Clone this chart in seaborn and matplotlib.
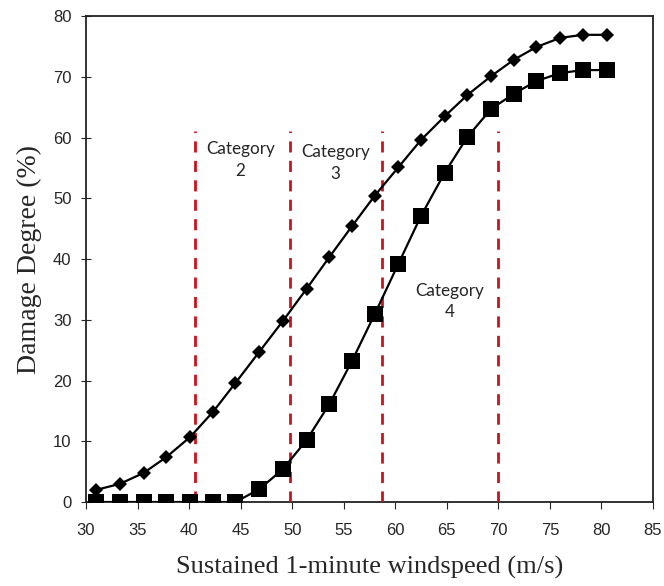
import numpy as np
import pandas as pd
import seaborn as sns
import matplotlib.pyplot as plt

# Values.
windspeed = [31.0, 33.3, 35.6, 37.8, 40.1, 42.3, 44.5, 46.8, 49.1, 51.4, 53.6,
             55.8, 58.0, 60.3, 62.5, 64.8, 67.0, 69.3, 71.5, 73.7, 76.0, 78.2,
             80.5]
damage_upper = [2.0, 3.0, 4.8, 7.4, 10.7, 14.8, 19.6, 24.7, 29.8, 35.1, 40.3,
                45.4, 50.4, 55.1, 59.6, 63.5, 67.0, 70.1, 72.8, 74.9, 76.4,
                76.9, 76.9]
damage_lower = [0.0, 0.0, 0.0, 0.0, 0.0, 0.0, 0.0, 2.1, 5.4, 10.2, 16.1, 23.2,
                30.9, 39.2, 47.1, 54.2, 60.1, 64.7, 67.2, 69.3, 70.6, 71.1,
                71.1]

category_bounds = [40.6, 49.8, 58.7, 70.0]
category_top = 61
category_labels = ["Category\n2", "Category\n3", "Category\n4"]
category_label_x = [45.0, 54.2, 65.3]
category_label_y = [56.3, 55.8, 33.0]

x_ticks = np.arange(30, 90, 5)
y_ticks = np.arange(0, 90, 10)


def main():
    sns.set_style("ticks")
    df = pd.DataFrame({"windspeed": windspeed,
                       "upper": damage_upper,
                       "lower": damage_lower})

    fig = plt.figure(figsize=(6.64, 5.86), dpi=100)
    ax = fig.add_axes([0.1295, 0.1433, 0.8539, 0.8294])

    sns.lineplot(x="windspeed", y="upper", data=df, estimator=None,
                 color="black", linewidth=1.6, marker="D", markersize=7.5,
                 markeredgewidth=0, ax=ax, zorder=5)
    sns.lineplot(x="windspeed", y="lower", data=df, estimator=None,
                 color="black", linewidth=1.6, marker="s", markersize=11,
                 markeredgewidth=0, ax=ax, zorder=5)

    ax.vlines(category_bounds, 0, category_top, colors="#c8141e",
              linestyles=(0, (4, 3)), linewidth=2, zorder=3)

    for label, lx, ly in zip(category_labels, category_label_x,
                             category_label_y):
        ax.text(lx, ly, label, ha="center", va="center", fontsize=12.3,
                family="Lato", linespacing=1.45)

    ax.set_xlim(30, 85)
    ax.set_ylim(0, 80)
    ax.set_xticks(x_ticks)
    ax.set_yticks(y_ticks)
    for spine in ax.spines.values():
        spine.set_visible(True)
        spine.set_linewidth(1.3)
        spine.set_color("#222222")
    ax.tick_params(axis="x", direction="out", length=5, pad=10,
                   labelsize=12)
    ax.tick_params(axis="y", direction="inout", length=7, pad=7,
                   labelsize=12)
    for lbl in ax.get_xticklabels() + ax.get_yticklabels():
        lbl.set_family("Liberation Sans")

    ax.set_xlabel("Sustained 1-minute windspeed (m/s)", fontsize=19,
                  family="Liberation Serif", labelpad=13)
    ax.set_ylabel("Damage Degree (%)", fontsize=20,
                  family="Liberation Serif", labelpad=8)

    fig.savefig("out.png", dpi=100)


if __name__ == "__main__":
    main()
